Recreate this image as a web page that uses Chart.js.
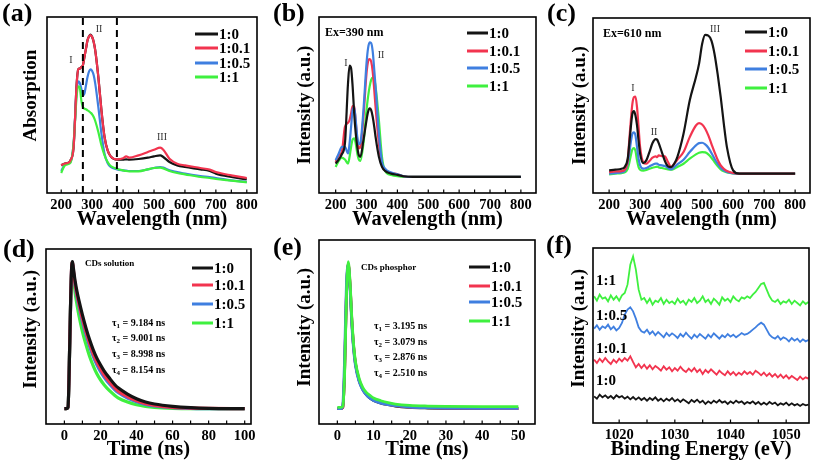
<!DOCTYPE html>
<html><head><meta charset="utf-8">
<script src="https://cdn.jsdelivr.net/npm/chart.js@4.4.0/dist/chart.umd.min.js"></script>
<style>
html,body{margin:0;padding:0;background:#fff;}
#root{position:relative;width:813px;height:469px;overflow:hidden;font-family:'Liberation Serif','Times New Roman',serif;color:#000;background:#fff;}
canvas{position:absolute;}
.t{position:absolute;white-space:nowrap;line-height:1;transform:translateY(-50%);font-weight:bold;}
.c{transform:translate(-50%,-50%);}
.ln{position:absolute;height:3px;transform:translateY(-50%);}
sub{font-size:70%;vertical-align:-2px;}
</style></head><body><div id="root"></div>
<script>
const seriesNames = ['1:0', '1:0.1', '1:0.5', '1:1'];
const seriesColors = ['#141414', '#f2344f', '#3f7fe0', '#3ff03f'];

// (a) absorption
const aWavelength = [200,210,220,230,240,250,255,260,265,270,275,280,285,290,295,300,305,310,320,330,340,350,360,380,400,410,420,450,480,500,520,530,550,575,600,650,680,700,750,800];
const aBlack = [105,110,112,120,160,350,393,395,400,405,430,455,480,492,497,490,475,450,370,270,190,150,132,122,122,123,122,124,128,132,135,130,115,105,100,93,88,80,70,63];
const aRed   = [105,110,112,120,160,350,393,395,400,405,430,455,480,492,496,490,475,450,370,270,190,150,132,123,126,132,128,135,145,152,158,152,125,110,105,97,92,85,75,67];
const aBlue  = [88,105,110,115,170,330,357,352,335,315,320,345,370,387,393,388,375,350,280,200,140,112,100,93,90,89,88,88,93,97,100,98,90,85,80,73,70,67,60,55];
const aGreen = [82,103,108,113,170,315,342,338,300,280,275,273,270,267,263,258,250,238,205,165,135,115,103,95,90,88,87,87,93,97,98,96,88,82,78,70,67,64,59,54];
const aMarkers = [270, 380];

// (b) emission, Ex=390 nm
const bWavelength = [200,210,220,230,240,245,250,255,260,265,270,275,280,290,300,305,310,315,320,325,330,340,350,360,380,400,420,450,500,600,700,800];
const bBlack = [110,122,138,170,350,403,395,340,260,200,160,135,130,180,240,265,275,270,250,220,185,130,100,88,80,76,72,70,70,70,70,70];
const bRed   = [115,135,145,220,232,240,260,282,280,235,180,155,160,250,380,415,422,415,385,330,270,170,105,90,82,78,72,70,70,70,70,70];
const bBlue  = [120,140,160,160,140,170,220,270,278,240,190,168,172,270,410,455,472,470,445,390,330,200,115,95,83,78,72,70,70,70,70,70];
const bGreen = [100,118,128,122,110,130,160,182,185,170,140,122,118,170,270,310,340,360,367,362,335,240,130,88,76,72,70,70,70,70,70,70];

// (c) emission, Ex=610 nm
const cWavelength = [200,220,240,250,260,265,270,275,280,285,290,295,300,310,320,330,340,350,355,360,370,380,390,400,410,420,440,460,480,490,500,510,520,530,540,550,560,570,580,600,620,650,700,750,800];
const cBlack = [90,92,95,100,125,170,220,260,268,255,225,180,140,112,120,145,172,184,182,172,145,118,102,100,110,130,200,300,370,410,470,497,495,480,440,380,310,230,160,90,80,80,80,80,80];
const cRed   = [85,87,88,92,120,180,240,290,310,312,280,220,160,115,110,118,128,132,130,135,133,132,115,100,110,122,145,190,225,232,228,215,195,170,145,122,105,95,88,82,80,80,80,80,80];
const cBlue  = [80,82,84,88,110,140,175,200,204,195,160,125,105,95,97,102,107,110,110,107,105,103,97,93,100,108,122,145,165,172,173,168,158,142,125,110,98,90,85,81,80,80,80,80,80];
const cGreen = [78,80,82,84,95,112,135,153,157,148,120,100,92,89,91,95,98,100,101,99,97,95,93,92,95,100,110,125,138,143,145,144,138,128,115,103,93,87,84,81,80,80,80,80,80];

// (d) decay, CDs solution
const dTime = [0,1,2,3,3.5,4,4.5,5,6,7,8,10,12,14,16,18,20,22,25,28,30,35,40,45,50,60,70,80,100];
const dBlack = [48,48,52,250,380,470,490,470,430,400,375,330,290,255,225,200,180,162,140,120,110,92,78,68,62,55,51,49,48];
const dRed   = [48,48,52,250,380,470,488,465,420,390,365,318,278,243,213,188,168,150,128,110,100,84,72,63,58,52,50,49,48];
const dBlue  = [48,48,52,250,380,465,485,460,415,383,358,310,270,235,205,180,160,143,122,105,96,80,69,61,56,51,49,48,48];
const dGreen = [48,48,52,250,380,455,470,445,395,360,330,280,240,205,177,153,135,120,102,88,80,68,60,55,52,49,48,48,48];
const dLifetimes = ['9.184', '9.001', '8.998', '8.154'];

// (e) decay, CDs phosphor
const eTime = [0,1,1.5,2,2.5,3,3.5,4,4.5,5,6,7,8,9,10,12,14,16,20,25,30,40,50];
const eBlack = [48,48,52,160,385,482,420,312,232,183,133,106,90,80,73,65,60,56,52,50,49,48,48];
const eRed   = [48,48,52,160,390,485,425,315,235,185,135,108,92,82,75,66,61,57,53,51,50,49,48];
const eBlue  = [48,48,60,200,420,480,410,300,225,178,130,105,90,80,73,65,60,57,53,51,50,49,49];
const eGreen = [52,52,55,150,380,490,430,320,240,190,140,112,97,88,80,72,66,62,58,56,55,54,54];
const eLifetimes = ['3.195', '3.079', '2.876', '2.510'];

// (f) XPS
const fEnergy = [1015.5,1016,1016.5,1017,1017.5,1018,1018.5,1019,1019.5,1020,
  1020.5,1021,1021.5,1022,1022.5,1023,1023.5,1024,1024.5,1025,
  1025.5,1026,1026.5,1027,1027.5,1028,1028.5,1029,1029.5,1030,
  1030.5,1031,1031.5,1032,1032.5,1033,1033.5,1034,1034.5,1035,
  1035.5,1036,1036.5,1037,1037.5,1038,1038.5,1039,1039.5,1040,
  1040.5,1041,1041.5,1042,1042.5,1043,1043.5,1044,1044.5,1045,
  1045.5,1046,1046.5,1047,1047.5,1048,1048.5,1049,1049.5,1050,
  1050.5,1051,1051.5,1052,1052.5,1053,1053.5,1054];
const fBlack = [85,78,90,82,88,80,86,78,88,82, 86,78,84,76,83,75,82,74,80,72, 80,74,82,72,78,70,78,72,80,70,
  76,68,76,70,64,74,68,75,66,72, 62,70,64,72,66,74,66,70,62,70, 64,72,66,70,62,68,64,70,62,68,
  60,66,60,68,62,66,58,64,60,66, 58,64,58,62,56,62,58,60];
const fRed = [195,185,198,188,200,190,182,195,186,198, 190,200,192,205,188,172,182,170,180,168, 178,166,176,170,162,175,165,172,160,170,
  162,174,164,158,168,160,170,158,166,152, 164,156,166,158,150,162,154,148,160,150, 158,148,156,150,160,152,158,150,162,156,
  148,156,146,154,144,152,142,150,140,148, 138,146,140,134,144,136,142,138];
const fBlue = [288,298,285,295,290,300,286,294,283,290, 305,330,345,352,340,318,292,280,276,285, 272,280,268,278,270,262,275,266,274,268,
  260,272,264,276,266,258,270,262,272,265, 258,270,262,274,266,258,268,262,272,264, 270,262,268,275,270,272,278,285,292,300,
  306,300,285,270,262,258,266,255,262,258, 250,260,252,258,248,256,250,254];
const fGreen = [385,372,390,378,382,370,388,375,385,372, 388,395,420,480,505,465,405,375,380,365, 378,360,372,368,380,362,375,365,370,362,
  378,366,372,360,375,368,380,365,372,385, 368,375,362,378,370,360,382,372,378,368, 385,375,370,382,378,385,380,390,398,410,
  422,425,405,385,372,368,375,362,370,366, 375,362,372,365,358,370,362,368];

const wlTicks = [200,300,400,500,600,700,800];
const wlMinor = [200,250,300,350,400,450,500,550,600,650,700,750,800];

const root = document.getElementById('root');
const SERIF = "'Liberation Serif','Times New Roman',serif";

const framePlugin = {
  id: 'frame',
  afterDraw(chart, args, opts) {
    const {ctx, chartArea: a, scales} = chart;
    ctx.save();
    ctx.strokeStyle = '#000';
    ctx.lineWidth = 1.2;
    (opts.ticks || []).forEach(v => {
      const x = scales.x.getPixelForValue(v);
      if (x < a.left + 1 || x > a.right - 1) return;
      ctx.beginPath(); ctx.moveTo(x, a.bottom); ctx.lineTo(x, a.bottom - 3.5); ctx.stroke();
    });
    ctx.lineWidth = 1.6;
    ctx.strokeRect(a.left, a.top, a.right - a.left, a.bottom - a.top);
    ctx.restore();
  }
};

function pts(xs, ys) { return xs.map((x, i) => ({x: x, y: ys[i]})); }

function series(xs, list, width, orders, smooth) {
  return list.map((ys, i) => ({
    data: pts(xs, ys), borderColor: seriesColors[i], borderWidth: width,
    pointRadius: 0, fill: false, order: orders[i],
    cubicInterpolationMode: smooth ? 'monotone' : 'default', tension: 0
  }));
}

function panel(cfg) {
  const cv = document.createElement('canvas');
  cv.width = cfg.w; cv.height = cfg.h;
  cv.style.left = cfg.x + 'px'; cv.style.top = cfg.y + 'px';
  root.appendChild(cv);
  const b = cfg.box;
  const yW = b.L - cfg.x;
  const xH = cfg.y + cfg.h - b.B;
  new Chart(cv, {
    type: 'line',
    data: {datasets: cfg.datasets},
    options: {
      responsive: false, animation: false, devicePixelRatio: 1,
      layout: {padding: {left: 0, top: b.T - cfg.y, right: cfg.x + cfg.w - b.R, bottom: 0}},
      plugins: {legend: {display: false}, tooltip: {enabled: false}, frame: {ticks: cfg.minor}},
      scales: {
        x: {type: 'linear', min: cfg.xMin, max: cfg.xMax,
          grid: {display: false, drawTicks: false}, border: {display: false},
          afterBuildTicks: s => { s.ticks = cfg.xTicks.map(v => ({value: v})); },
          afterFit: s => { s.height = xH; },
          ticks: {font: {family: SERIF, weight: 'bold', size: 14.5}, color: '#000', padding: 4, maxRotation: 0, autoSkip: false,
                  callback: v => String(v)},
          title: {display: true, text: cfg.xTitle, font: {family: SERIF, weight: 'bold', size: 20.5}, color: '#000',
                  padding: {top: 0, bottom: cfg.xTitlePad}}},
        y: {type: 'linear', min: cfg.yMin, max: cfg.yMax,
          grid: {display: false, drawTicks: false}, border: {display: false},
          ticks: {display: false},
          afterFit: s => { s.width = yW; },
          title: {display: true, text: cfg.yTitle, font: {family: SERIF, weight: 'bold', size: 19}, color: '#000',
                  padding: {top: cfg.yTitlePad, bottom: 0}}}
      }
    },
    plugins: [framePlugin]
  });
}

function text(x, y, html, size, extra) {
  const d = document.createElement('div');
  d.className = 't' + (extra && extra.center ? ' c' : '');
  d.style.left = x + 'px'; d.style.top = y + 'px'; d.style.fontSize = size + 'px';
  if (extra && extra.normal) d.style.fontWeight = 'normal';
  if (extra && extra.color) d.style.color = extra.color;
  d.innerHTML = html;
  root.appendChild(d);
}
function legend(x, ys, len, size) {
  seriesNames.forEach((n, i) => {
    const l = document.createElement('div');
    l.className = 'ln';
    l.style.left = x + 'px'; l.style.top = ys[i] + 'px'; l.style.width = len + 'px';
    l.style.background = seriesColors[i];
    root.appendChild(l);
    text(x + len + 1, ys[i], n, size);
  });
}

// ---- (a)
const aDash = aMarkers.map(v => ({data: [{x: v, y: 22}, {x: v, y: 550}], borderColor: '#000', borderWidth: 2,
  borderDash: [7, 5], pointRadius: 0, order: -1}));
panel({x: 0, y: 0, w: 268, h: 235, box: {L: 47, T: 17, R: 257, B: 193},
  xMin: 154, xMax: 833, yMin: 22, yMax: 550, xTicks: wlTicks, minor: wlMinor,
  xTitle: 'Wavelength (nm)', xTitlePad: 2.7, yTitle: '    Absorption', yTitlePad: 20,
  datasets: series(aWavelength, [aBlack, aRed, aBlue, aGreen], 2.2, [3, 0, 2, 1], true).concat(aDash)});
// ---- (b)
panel({x: 268, y: 0, w: 272, h: 235, box: {L: 319, T: 17, R: 536, B: 193},
  xMin: 146, xMax: 849, yMin: 22, yMax: 548, xTicks: wlTicks, minor: wlMinor,
  xTitle: 'Wavelength (nm)', xTitlePad: 2.7, yTitle: 'Intensity (a.u.)', yTitlePad: 25.6,
  datasets: series(bWavelength, [bBlack, bRed, bBlue, bGreen], 2.2, [0, 2, 1, 3], true)});
// ---- (c)
panel({x: 540, y: 0, w: 273, h: 235, box: {L: 593, T: 18, R: 810, B: 193},
  xMin: 148, xMax: 848, yMin: 22, yMax: 548, xTicks: wlTicks, minor: wlMinor,
  xTitle: 'Wavelength (nm)', xTitlePad: 2.7, yTitle: 'Intensity (a.u.)', yTitlePad: 28.6,
  datasets: series(cWavelength, [cBlack, cRed, cBlue, cGreen], 2.2, [0, 1, 2, 3], true)});
// ---- (d)
panel({x: 0, y: 235, w: 268, h: 234, box: {L: 46, T: 249, R: 251, B: 424},
  xMin: -10.2, xMax: 103.5, yMin: 2, yMax: 528, xTicks: [0,20,40,60,80,100], minor: [0,10,20,30,40,50,60,70,80,90,100],
  xTitle: 'Time (ns)', xTitlePad: 6.7, yTitle: '   Intensity (a.u.)', yTitlePad: 19.6,
  datasets: series(dTime, [dBlack, dRed, dBlue, dGreen], 3.2, [0, 1, 2, 3], true)});
// ---- (e)
panel({x: 268, y: 235, w: 272, h: 234, box: {L: 319, T: 240, R: 535, B: 424},
  xMin: -5.07, xMax: 54.6, yMin: 2, yMax: 555, xTicks: [0,10,20,30,40,50], minor: [0,5,10,15,20,25,30,35,40,45,50],
  xTitle: 'Time (ns)', xTitlePad: 6.7, yTitle: '  Intensity (a.u.)', yTitlePad: 25.6,
  datasets: series(eTime, [eBlack, eRed, eBlue, eGreen], 2.8, [3, 2, 1, 0], true)});
// ---- (f)
panel({x: 540, y: 235, w: 273, h: 234, box: {L: 593, T: 248, R: 809, B: 423},
  xMin: 1015.3, xMax: 1054.1, yMin: 5, yMax: 530, xTicks: [1020,1030,1040,1050], minor: [1020,1025,1030,1035,1040,1045,1050],
  xTitle: 'Binding Energy (eV)', xTitlePad: 6.7, yTitle: '   Intensity (a.u.)', yTitlePad: 27.6,
  datasets: series(fEnergy, [fBlack, fRed, fBlue, fGreen], 1.8, [0, 1, 2, 3], false)});

// panel letters
text(2, 13, '(a)', 26); text(273, 13, '(b)', 26); text(547, 13, '(c)', 26);
text(3, 249, '(d)', 26); text(273, 247, '(e)', 26); text(546, 245, '(f)', 26);

// legends
legend(195, [34, 48, 63, 77], 23, 15);
legend(467, [33, 51, 68, 86], 21, 15);
legend(745, [32, 51, 69, 88], 22, 15);
legend(192, [268, 285, 304, 323], 21, 15);
legend(469, [267, 286, 302, 321], 21, 15);

// annotations (a)
text(71, 60, 'I', 10, {center: true, normal: true, color: '#333'});
text(99, 29, 'II', 10, {center: true, normal: true, color: '#333'});
text(162, 137, 'III', 10, {center: true, normal: true, color: '#333'});
// (b)
text(325, 32, 'Ex=390 nm', 12);
text(346, 63, 'I', 10, {center: true, normal: true, color: '#333'});
text(381, 55, 'II', 10, {center: true, normal: true, color: '#333'});
// (c)
text(603, 33, 'Ex=610 nm', 12);
text(715, 29, 'III', 10, {center: true, normal: true, color: '#333'});
text(633, 88, 'I', 10, {center: true, normal: true, color: '#333'});
text(654, 132, 'II', 10, {center: true, normal: true, color: '#333'});
// (d)
text(85, 263, 'CDs solution', 9);
dLifetimes.forEach((v, i) => text(112, [324, 339, 355, 371][i], '\u03c4<sub>' + (i + 1) + '</sub> = ' + v + ' ns', 10));
// (e)
text(361, 267, 'CDs phosphor', 9);
eLifetimes.forEach((v, i) => text(374, [327, 343, 358, 374][i], '\u03c4<sub>' + (i + 1) + '</sub> = ' + v + ' ns', 10));
// (f) series labels
[3, 2, 1, 0].forEach((s, k) => text(596, [280, 315, 348, 380][k], seriesNames[s], 15));
</script></body></html>
